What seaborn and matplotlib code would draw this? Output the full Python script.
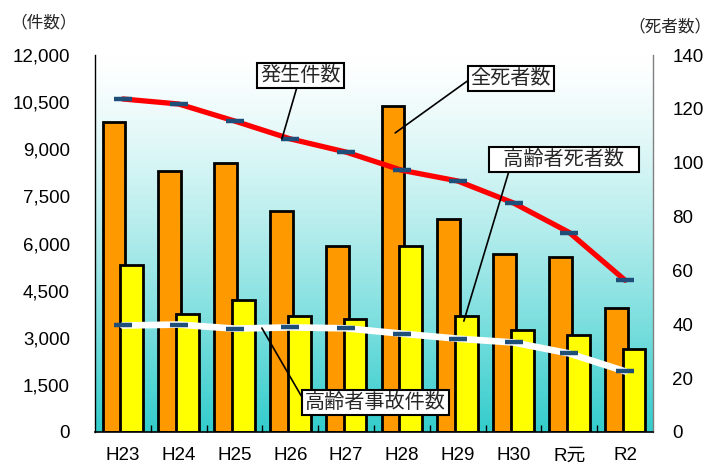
import numpy as np
import pandas as pd
import matplotlib
matplotlib.use("Agg")
import matplotlib.pyplot as plt
import seaborn as sns

# ---- data ----
years = ["H23", "H24", "H25", "H26", "H27", "H28", "H29", "H30", "R元", "R2"]
accidents = [10600, 10440, 9900, 9330, 8910, 8330, 7990, 7290, 6350, 4830]
elderly_accidents = [3390, 3420, 3290, 3330, 3300, 3130, 2970, 2850, 2500, 1930]
deaths = [115, 97, 100, 82, 69, 121, 79, 66, 65, 46]
elderly_deaths = [62, 44, 49, 43, 42, 69, 43, 38, 36, 31]

sns.set_theme(style="white")
plt.rcParams['font.family'] = ['Liberation Sans', 'Noto Sans CJK JP', 'DejaVu Sans']

df = pd.DataFrame({
    "idx": np.arange(len(years)),
    "year": years,
    "accidents": accidents,
    "elderly_accidents": elderly_accidents,
    "deaths": deaths,
    "elderly_deaths": elderly_deaths,
})

fig = plt.figure(figsize=(7.24, 4.70), dpi=100)
ax = fig.add_axes([95 / 724, 38 / 470, 558 / 724, 377 / 470])
ax2 = ax.twinx()

# gradient background (white top -> turquoise bottom)
t = np.linspace(0, 1, 256) ** 1.3
top = np.array([1.0, 1.0, 1.0])
bottom = np.array([0.2, 0.8, 0.8])
grad = (top[None, :] * (1 - t[:, None]) + bottom[None, :] * t[:, None])[:, None, :]
ax2.imshow(grad, extent=[0, 1, 0, 1], transform=ax2.transAxes, aspect="auto", zorder=0)

# bars on the deaths axis
sns.barplot(x=df["idx"] - 0.16, y=df["deaths"], native_scale=True, width=0.41,
            color="#FF9900", saturation=1, edgecolor="black", linewidth=2,
            errorbar=None, ax=ax2, zorder=2)
sns.barplot(x=df["idx"] + 0.16, y=df["elderly_deaths"], native_scale=True, width=0.41,
            color="#FFFF00", saturation=1, edgecolor="black", linewidth=2,
            errorbar=None, ax=ax2, zorder=3)

# lines on the accidents axis (drawn above bars)
ax.set_zorder(ax2.get_zorder() + 1)
ax.patch.set_visible(False)
sns.lineplot(data=df, x="idx", y="accidents", color="#FF0000", linewidth=3.8,
             marker="_", markersize=12.5, markeredgewidth=3.2, markeredgecolor="#1F4E79",
             ax=ax, zorder=3)
sns.lineplot(data=df, x="idx", y="elderly_accidents", color="white", linewidth=4.8,
             marker="_", markersize=12.5, markeredgewidth=3.2, markeredgecolor="#1F4E79",
             ax=ax, zorder=3)

# axes setup
ax.set_xlim(-0.5, len(years) - 0.5)
ax2.set_xlim(-0.5, len(years) - 0.5)
ax.set_ylim(0, 12000)
ax2.set_ylim(0, 140)
ax.set_yticks(np.arange(0, 12001, 1500))
ax.set_yticklabels([f"{v:,}" for v in range(0, 12001, 1500)])
ax2.set_yticks(np.arange(0, 141, 20))
ax.set_xticks(np.arange(len(years)))
ax.set_xticklabels(years)
ax.set_xticks(np.arange(0.5, len(years) - 1, 1), minor=True)
for a in (ax, ax2):
    a.set_xlabel("")
    a.set_ylabel("")
    a.grid(False)
ax.tick_params(axis="y", length=0, pad=18, labelsize=13.5, colors="black")
ax2.tick_params(axis="y", length=0, pad=14, labelsize=13.5, colors="black")
ax.tick_params(axis="x", which="major", length=0, pad=11, labelsize=13.5, colors="black")
ax.tick_params(axis="x", which="minor", length=5, width=1, direction="in", color="black", bottom=True)
ax2.tick_params(axis="x", bottom=False, labelbottom=False)

for s in ax2.spines.values():
    s.set_visible(False)
ax.spines["top"].set_visible(False)
ax.spines["left"].set_color("black")
ax.spines["left"].set_linewidth(1)
ax.spines["bottom"].set_color("black")
ax.spines["bottom"].set_linewidth(1.2)
ax.spines["right"].set_color("#808080")
ax.spines["right"].set_linewidth(1)

# annotations
box = dict(boxstyle="square,pad=0.15", fc="white", ec="black", lw=1.5)
line = dict(arrowstyle="-", color="black", lw=1.2, shrinkA=0, shrinkB=0)
fs = 14.5
ax.annotate("発生件数", xy=(2.85, 9330), xytext=(3.18, 11350), ha="center", va="center",
            fontsize=fs, bbox=box, arrowprops=line, zorder=5)
ax.annotate("全死者数", xy=(4.88, 9520), xytext=(6.955, 11250), ha="center", va="center",
            fontsize=fs, bbox=box, arrowprops=dict(line, relpos=(0, 0.5)), zorder=5)
ax.annotate("  高齢者死者数  ", xy=(6.11, 3530), xytext=(7.905, 8670), ha="center", va="center",
            fontsize=fs, bbox=box, arrowprops=dict(line, relpos=(0.12, 0)), zorder=5)
ax.annotate("高齢者事故件数", xy=(2.49, 3310), xytext=(4.527, 940), ha="center", va="center",
            fontsize=fs, bbox=box, arrowprops=dict(line, relpos=(0, 0.5)), zorder=5)

fig.text(10 / 724, 1 - 22 / 470, "（件数）", fontsize=12, ha="left", va="center")
fig.text(712 / 724, 1 - 26 / 470, "（死者数）", fontsize=12, ha="right", va="center")

fig.savefig("out.png", dpi=100)
